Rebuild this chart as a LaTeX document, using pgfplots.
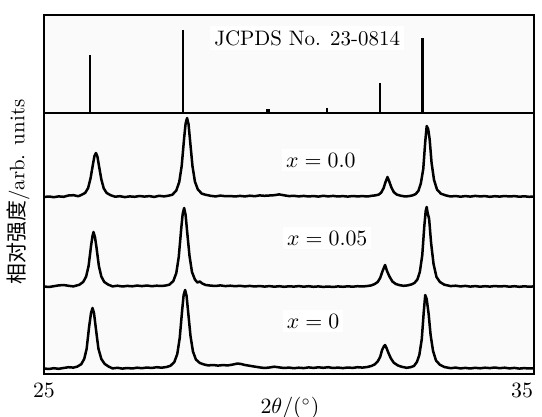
\documentclass[border=0pt]{standalone}
\usepackage{pgfplots}
\pgfplotsset{compat=1.18}
\usepackage{fontspec}
\newfontfamily\cjk{Noto Sans CJK SC}
\begin{document}
\begin{tikzpicture}
\path[use as bounding box] (-22bp,-21.5bp) rectangle (249bp,187bp);
\begin{axis}[name=main, at={(0,0)}, anchor=south west,
  width=245bp, height=130.5bp, scale only axis,
  xmin=25, xmax=35, ymin=0, ymax=261,
  xtick={25}, extra x ticks={35},
  extra x tick style={xticklabel style={xshift=-6bp}},
  ytick=\empty, major tick length=0pt,
  axis line style={line width=1bp},
  axis background/.style={fill=black!2},
  font=\fontsize{10.5}{12}\selectfont,
  xticklabel style={yshift=-1bp},
  xlabel={$2\theta/(^\circ)$},
  xlabel style={at={(axis description cs:0.502,0)}, anchor=center, yshift=-17bp},
  ylabel={{\cjk 相对强度}/arb. units},
  ylabel style={at={(axis description cs:-0.053,0.697)}, anchor=center},
  clip=true]
% x = 0.0
\addplot[black, line width=1.25bp, line join=round] coordinates {
(25.0,177) (25.1,177.5) (25.2,176.8) (25.3,177.6) (25.4,177.2) (25.5,178.5) (25.6,178.8) (25.7,177.8)
(25.76,179.0) (25.84,181.1) (25.90,185.9) (25.95,195.6) (26.00,210) (26.03,218) (26.06,221) (26.09,217.5)
(26.12,208.7) (26.17,194.7) (26.22,185.5) (26.28,181) (26.36,178.8)
(26.45,177.3) (26.55,177.8) (26.65,176.9) (26.75,177.6) (26.85,177.2) (26.95,178.0) (27.05,177.4)
(27.15,177.9) (27.25,177.1) (27.35,178.2) (27.45,177.6) (27.55,178.4)
(27.62,179.3) (27.70,183.5) (27.76,192) (27.81,208) (27.86,236) (27.89,250.5) (27.92,256) (27.95,249.7)
(27.98,234) (28.03,208) (28.08,192.4) (28.14,184.5) (28.22,180.4) (28.30,179.2)
(28.4,178.2) (28.5,177.6) (28.6,178.4) (28.7,177.8) (28.8,178.0) (28.9,177.5) (29.0,178.1) (29.1,177.6)
(29.2,178.3) (29.3,177.8) (29.4,178.6) (29.5,178.2) (29.6,178.5) (29.7,178.8) (29.8,179.6) (29.9,178.7)
(30.0,177.9) (30.1,178.2) (30.2,177.6) (30.3,178.1) (30.4,177.5) (30.5,178.0) (30.6,177.4) (30.7,178.2)
(30.8,177.6) (30.9,178.1) (31.0,177.5) (31.1,177.9) (31.2,177.4) (31.3,178.0) (31.4,177.6) (31.5,177.9)
(31.6,177.5) (31.7,178.3)
(31.76,178.6) (31.83,179.4) (31.88,181.3) (31.93,185.8) (31.97,192) (32.01,197) (32.05,192) (32.09,186.5)
(32.14,181.8) (32.20,179.4) (32.28,178.3) (32.36,177.6) (32.44,177.8) (32.52,178.6)
(32.58,179.8) (32.64,183) (32.69,190.5) (32.74,205) (32.78,232) (32.81,248) (32.84,245) (32.87,235)
(32.91,211) (32.96,194) (33.02,184.5) (33.10,180.3) (33.20,178.6)
(33.3,177.5) (33.4,178.0) (33.5,177.3) (33.6,177.9) (33.7,177.4) (33.8,178.1) (33.9,177.6) (34.0,177.9)
(34.1,177.2) (34.2,177.8) (34.3,177.4) (34.4,178.0) (34.5,177.5) (34.6,177.9) (34.7,177.3) (34.8,177.7)
(34.9,177.2) (35.0,177.5)};
% x = 0.05
\addplot[black, line width=1.25bp, line join=round] coordinates {
(25.0,87.5) (25.1,87.0) (25.2,87.8) (25.3,88.6) (25.4,89.0) (25.5,88.2) (25.6,87.6) (25.65,88.3)
(25.72,89.2) (25.80,92) (25.86,97.5) (25.91,108) (25.96,128) (25.99,138) (26.01,142) (26.04,137)
(26.07,127) (26.12,108) (26.17,97.5) (26.23,92) (26.31,89.4)
(26.4,87.6) (26.5,88.3) (26.6,87.5) (26.7,88.1) (26.8,87.7) (26.9,88.4) (27.0,87.9) (27.1,88.5)
(27.2,87.8) (27.3,88.3) (27.4,88.0) (27.5,88.6)
(27.56,89.4) (27.64,93) (27.70,101) (27.75,117) (27.80,145) (27.83,160) (27.86,166) (27.89,159)
(27.92,143) (27.97,118) (28.02,102) (28.08,94.5) (28.13,91.5) (28.18,92.5) (28.23,90.5) (28.3,89)
(28.4,88.4) (28.5,88.0) (28.6,88.6) (28.7,87.9) (28.8,88.3) (28.9,87.8) (29.0,88.2) (29.1,87.6)
(29.2,88.1) (29.3,87.5) (29.4,88.0) (29.5,87.4) (29.6,87.9) (29.7,87.3) (29.8,87.8) (29.9,87.2)
(30.0,87.7) (30.1,87.4) (30.2,87.9) (30.3,87.3) (30.4,87.8) (30.5,87.2) (30.6,87.6) (30.7,87.1)
(30.8,87.5) (30.9,87.0) (31.0,87.6) (31.1,87.2) (31.2,87.7) (31.3,87.3) (31.4,87.8) (31.5,87.5)
(31.6,88.0)
(31.68,88.6) (31.75,90) (31.81,92) (31.86,96) (31.91,103) (31.96,109) (32.00,103) (32.05,97.5)
(32.11,92.5) (32.18,90) (32.26,88.8) (32.34,88.2) (32.42,88.6) (32.50,89.6)
(32.56,91) (32.62,94.5) (32.67,102) (32.72,119) (32.76,147) (32.79,163) (32.81,167) (32.83,161)
(32.86,155) (32.90,131) (32.95,110) (33.01,97) (33.08,92) (33.17,89.3)
(33.3,87.9) (33.4,88.3) (33.5,87.6) (33.6,88.1) (33.7,87.4) (33.8,87.9) (33.9,87.3) (34.0,87.8)
(34.1,87.4) (34.2,88.0) (34.3,87.5) (34.4,87.9) (34.5,87.3) (34.6,87.8) (34.7,87.2) (34.8,87.7)
(34.9,87.3) (35.0,87.6)};
% x = 0
\addplot[black, line width=1.25bp, line join=round] coordinates {
(25.0,5.5) (25.1,5.0) (25.2,5.8) (25.3,5.2) (25.4,6.0) (25.5,6.8) (25.6,6.4)
(25.68,7.4) (25.76,9.8) (25.82,15) (25.87,25) (25.92,47) (25.96,61) (25.99,66) (26.02,61)
(26.06,45) (26.11,25.5) (26.17,15) (26.24,10) (26.32,7.4)
(26.4,5.6) (26.5,6.2) (26.6,5.4) (26.7,6.0) (26.8,5.5) (26.9,6.3) (27.0,5.8) (27.1,6.5)
(27.2,6.0) (27.3,6.8) (27.4,6.3) (27.5,7.0)
(27.58,8.2) (27.66,12) (27.72,20) (27.77,36) (27.82,64) (27.85,79) (27.88,84) (27.91,78)
(27.94,63) (27.99,38) (28.04,22.5) (28.10,14.5) (28.18,11) (28.26,9.6)
(28.35,8.6) (28.45,9.0) (28.55,8.4) (28.65,8.9) (28.75,8.6) (28.85,9.4) (28.95,10.5) (29.02,10.0)
(29.1,9.0) (29.2,8.2) (29.3,7.4) (29.4,6.6) (29.5,6.0) (29.6,6.5) (29.7,7.3) (29.8,6.6)
(29.9,6.0) (30.0,6.4) (30.1,5.8) (30.2,6.3) (30.3,5.9) (30.4,6.6) (30.5,6.1) (30.6,6.7)
(30.7,6.2) (30.8,6.8) (30.9,6.0) (31.0,6.4) (31.1,5.9) (31.2,6.5) (31.3,6.1) (31.4,6.8)
(31.5,6.4) (31.6,7.0)
(31.68,8.0) (31.75,9.6) (31.81,12.5) (31.86,17) (31.90,24) (31.94,28) (31.96,29) (31.99,26)
(32.03,21) (32.08,15.5) (32.14,11.2) (32.22,8.6) (32.30,7.2) (32.40,6.2) (32.48,6.8)
(32.55,8.0) (32.61,12) (32.66,19) (32.71,35) (32.75,62) (32.78,79) (32.81,75) (32.85,60)
(32.89,39) (32.94,23) (33.00,13.5) (33.08,9.2) (33.17,7.0)
(33.3,5.8) (33.4,6.4) (33.5,5.6) (33.6,6.1) (33.7,5.5) (33.8,6.2) (33.9,5.7) (34.0,6.3)
(34.1,5.9) (34.2,6.5) (34.3,5.8) (34.4,6.3) (34.5,5.6) (34.6,6.1) (34.7,5.4) (34.8,5.9)
(34.9,5.5) (35.0,5.8)};
\node[fill=white, inner sep=2bp] at (axis cs:30.65,214) {$x=0.0$};
\node[fill=white, inner sep=2bp] at (axis cs:30.78,136) {$x=0.05$};
\node[fill=white, inner sep=2bp] at (axis cs:30.49,53) {$x=0$};
\end{axis}
\begin{axis}[at={(main.north west)}, anchor=south west,
  width=245bp, height=49bp, scale only axis,
  xmin=25, xmax=35, ymin=0, ymax=98,
  xtick=\empty, ytick=\empty,
  axis line style={line width=1bp},
  axis background/.style={fill=black!2},
  font=\fontsize{10.5}{12}\selectfont]
\addplot[ycomb, black, line width=1.3bp] coordinates {(27.84,83) (32.72,75)};
\addplot[ycomb, black, line width=0.8bp] coordinates {(25.94,58) (31.86,30) (30.77,5)};
\addplot[ycomb, black, line width=1.6bp] coordinates {(29.57,4)};
\node[fill=white, inner sep=2bp] at (axis cs:30.37,75) {JCPDS No. 23-0814};
\end{axis}
\end{tikzpicture}
\end{document}
